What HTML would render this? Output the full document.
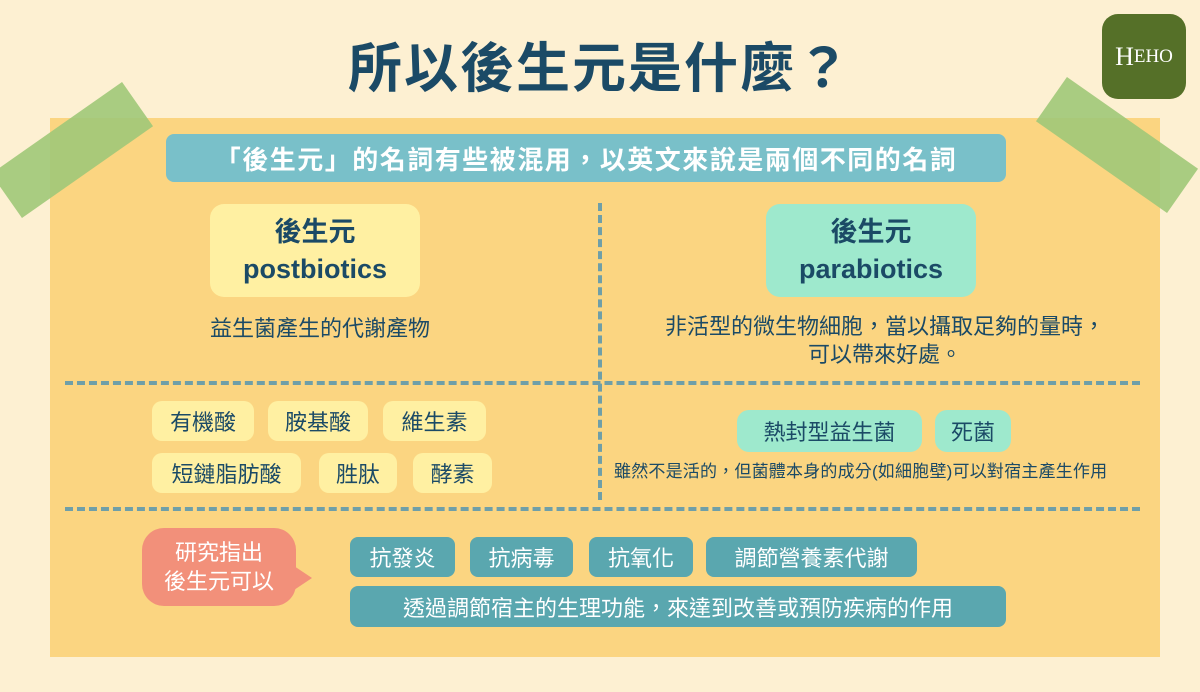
<!DOCTYPE html>
<html><head><meta charset="utf-8"><style>
*{margin:0;padding:0;box-sizing:border-box}
body{width:1200px;height:692px;background:#fdf0d2;position:relative;overflow:hidden;font-family:"Liberation Sans","Noto Sans CJK TC",sans-serif;color:#1b4a66}
.a{position:absolute}
.c{display:flex;align-items:center;justify-content:center;text-align:center}
.y{background:#fff0a2;border-radius:10px;font-size:22px}
.m{background:#9ee9cd;border-radius:12px;font-size:22px}
.t{background:#5aa7af;color:#fff;border-radius:8px;font-size:22px}
.tape{position:absolute;background:rgba(160,200,120,.9);width:160px;height:54px}
</style></head><body>
<div class="a" style="left:50px;top:118px;width:1110px;height:539px;background:#fbd581"></div>
<div class="tape" style="left:-8px;top:123px;transform:rotate(-35deg)"></div>
<div class="tape" style="left:1037px;top:118px;transform:rotate(35deg)"></div>
<div class="a c" style="left:0;top:26px;width:1200px;height:74px;font-size:54px;font-weight:bold;letter-spacing:2px">所以後生元是什麼？</div>
<div class="a c" style="left:1102px;top:14px;width:84px;height:85px;background:#557028;border-radius:16px;color:#fff;font-family:'Liberation Serif',serif;font-size:26px">H<span style="font-size:19px">EHO</span></div>
<div class="a c" style="left:166px;top:134px;width:840px;height:48px;background:#79c0c9;border-radius:8px;color:#fff;font-size:26px;font-weight:bold;letter-spacing:1.5px">「後生元」的名詞有些被混用，以英文來說是兩個不同的名詞</div>
<div class="a" style="left:598px;top:203px;height:297px;border-left:4px dashed #6f9fa8"></div>
<div class="a" style="left:65px;top:381px;width:1075px;border-top:4px dashed #6f9fa8"></div>
<div class="a" style="left:65px;top:507px;width:1075px;border-top:4px dashed #6f9fa8"></div>
<div class="a c y" style="left:210px;top:204px;width:210px;height:93px;font-size:27px;font-weight:bold;line-height:37px;border-radius:14px">後生元<br>postbiotics</div>
<div class="a c m" style="left:766px;top:204px;width:210px;height:93px;font-size:27px;font-weight:bold;line-height:37px;border-radius:14px">後生元<br>parabiotics</div>
<div class="a c" style="left:150px;top:312px;width:340px;height:30px;font-size:22px">益生菌產生的代謝產物</div>
<div class="a c" style="left:600px;top:312px;width:570px;height:58px;font-size:22px;line-height:28px">非活型的微生物細胞，當以攝取足夠的量時，<br>可以帶來好處。</div>
<div class="a c y" style="left:152px;top:401px;width:102px;height:40px">有機酸</div>
<div class="a c y" style="left:268px;top:401px;width:100px;height:40px">胺基酸</div>
<div class="a c y" style="left:383px;top:401px;width:103px;height:40px">維生素</div>
<div class="a c y" style="left:152px;top:453px;width:149px;height:40px">短鏈脂肪酸</div>
<div class="a c y" style="left:319px;top:453px;width:78px;height:40px">胜肽</div>
<div class="a c y" style="left:413px;top:453px;width:79px;height:40px">酵素</div>
<div class="a c m" style="left:737px;top:410px;width:185px;height:42px">熱封型益生菌</div>
<div class="a c m" style="left:935px;top:410px;width:76px;height:42px">死菌</div>
<div class="a" style="left:614px;top:457px;width:560px;font-size:17px;letter-spacing:0.2px;white-space:nowrap">雖然不是活的，但菌體本身的成分(如細胞壁)可以對宿主產生作用</div>
<div class="a c" style="left:142px;top:528px;width:154px;height:78px;background:#f2907a;border-radius:22px;color:#fff;font-size:22px;line-height:29px">研究指出<br>後生元可以</div>
<div class="a" style="left:294px;top:566px;width:0;height:0;border-top:12px solid transparent;border-bottom:12px solid transparent;border-left:18px solid #f2907a"></div>
<div class="a c t" style="left:350px;top:537px;width:105px;height:40px">抗發炎</div>
<div class="a c t" style="left:470px;top:537px;width:103px;height:40px">抗病毒</div>
<div class="a c t" style="left:589px;top:537px;width:104px;height:40px">抗氧化</div>
<div class="a c t" style="left:706px;top:537px;width:211px;height:40px">調節營養素代謝</div>
<div class="a c t" style="left:350px;top:586px;width:656px;height:41px">透過調節宿主的生理功能，來達到改善或預防疾病的作用</div>
</body></html>
